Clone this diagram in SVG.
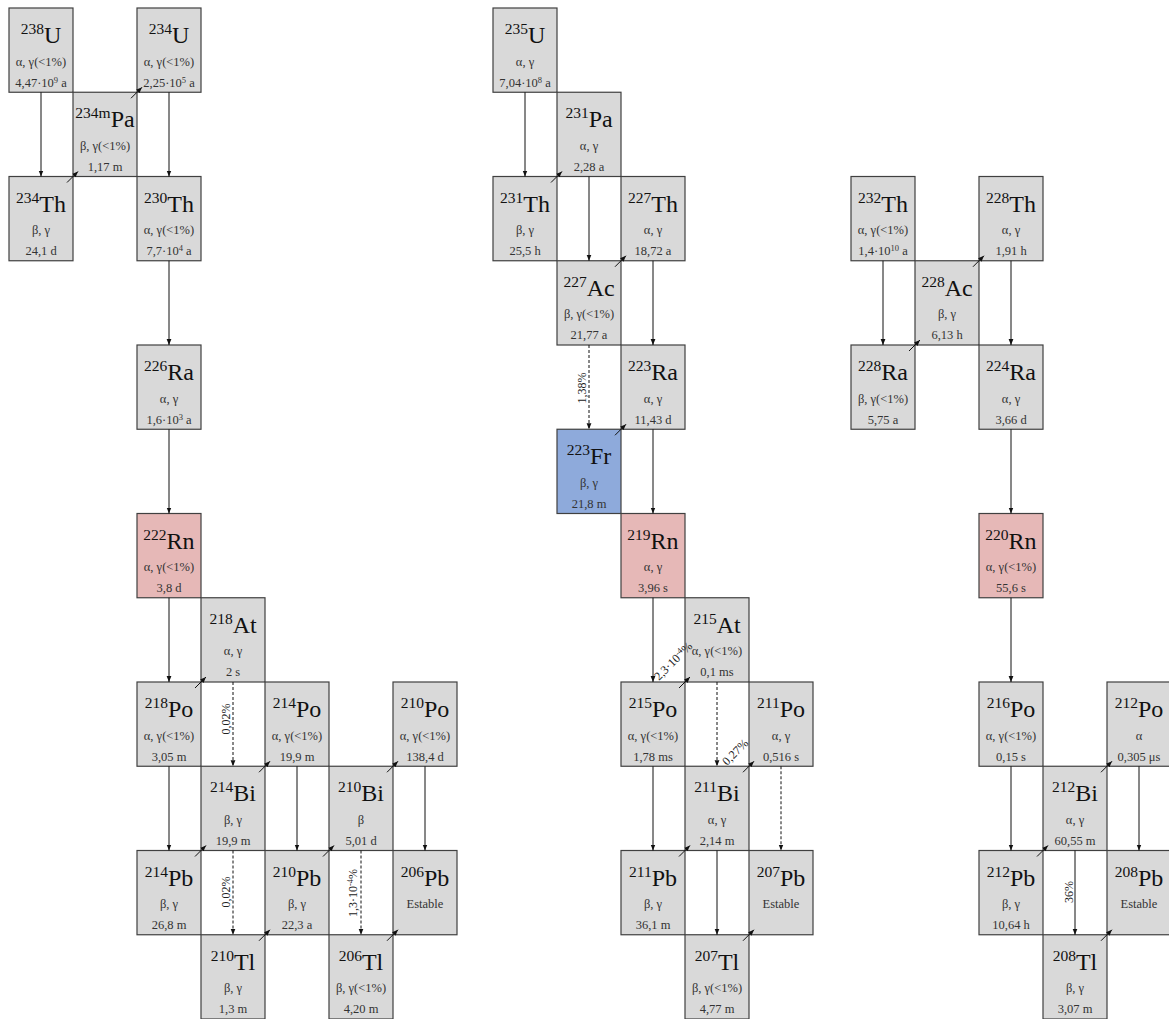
<svg xmlns="http://www.w3.org/2000/svg" width="1169" height="1019" viewBox="0 0 1169 1019">
<style>
.box{fill:#d9d9d9;stroke:#404040;stroke-width:1.2}
.pink{fill:#e6b8b7}
.blue{fill:#8eaadb}
text{font-family:"Liberation Serif","Times New Roman",serif;text-anchor:middle}
.sym{font-size:24px;fill:#111}
.sup{font-size:15.5px}
.t{font-size:12.5px;fill:#333}
.s2{font-size:8.5px}
.lbl{font-size:12px;fill:#222}
.a{stroke:#111;stroke-width:1;fill:none;marker-end:url(#ah)}
.d{stroke-dasharray:3,2}
</style>
<defs>
<marker id="ah" viewBox="0 0 10 10" refX="10" refY="5" markerWidth="6" markerHeight="6" markerUnits="userSpaceOnUse" orient="auto">
<path d="M0,1 L10,5 L0,9 z" fill="#111"/>
</marker>
</defs>
<rect width="1169" height="1019" fill="#fff"/>
<g id="nodes">
<!-- Chain 238U -->
<g id="n238U" transform="translate(9,8)"><rect class="box" width="64" height="84.25"/><text class="sym" x="32" y="35"><tspan class="sup" dy="-9">238</tspan><tspan dy="9">U</tspan></text><text class="t" x="32" y="57.5">α, γ(&lt;1%)</text><text class="t" x="32" y="78.5">4,47·10<tspan class="s2" dy="-4">9</tspan><tspan dy="4"> a</tspan></text></g>
<g id="n234mPa" transform="translate(73,92.25)"><rect class="box" width="64" height="84.25"/><text class="sym" x="32" y="35"><tspan class="sup" dy="-9">234m</tspan><tspan dy="9">Pa</tspan></text><text class="t" x="32" y="57.5">β, γ(&lt;1%)</text><text class="t" x="32" y="78.5">1,17 m</text></g>
<g id="n234U" transform="translate(137,8)"><rect class="box" width="64" height="84.25"/><text class="sym" x="32" y="35"><tspan class="sup" dy="-9">234</tspan><tspan dy="9">U</tspan></text><text class="t" x="32" y="57.5">α, γ(&lt;1%)</text><text class="t" x="32" y="78.5">2,25·10<tspan class="s2" dy="-4">5</tspan><tspan dy="4"> a</tspan></text></g>
<g id="n234Th" transform="translate(9,176.5)"><rect class="box" width="64" height="84.25"/><text class="sym" x="32" y="35"><tspan class="sup" dy="-9">234</tspan><tspan dy="9">Th</tspan></text><text class="t" x="32" y="57.5">β, γ</text><text class="t" x="32" y="78.5">24,1 d</text></g>
<g id="n230Th" transform="translate(137,176.5)"><rect class="box" width="64" height="84.25"/><text class="sym" x="32" y="35"><tspan class="sup" dy="-9">230</tspan><tspan dy="9">Th</tspan></text><text class="t" x="32" y="57.5">α, γ(&lt;1%)</text><text class="t" x="32" y="78.5">7,7·10<tspan class="s2" dy="-4">4</tspan><tspan dy="4"> a</tspan></text></g>
<g id="n226Ra" transform="translate(137,345)"><rect class="box" width="64" height="84.25"/><text class="sym" x="32" y="35"><tspan class="sup" dy="-9">226</tspan><tspan dy="9">Ra</tspan></text><text class="t" x="32" y="57.5">α, γ</text><text class="t" x="32" y="78.5">1,6·10<tspan class="s2" dy="-4">3</tspan><tspan dy="4"> a</tspan></text></g>
<g id="n222Rn" transform="translate(137,513.5)"><rect class="box pink" width="64" height="84.25"/><text class="sym" x="32" y="35"><tspan class="sup" dy="-9">222</tspan><tspan dy="9">Rn</tspan></text><text class="t" x="32" y="57.5">α, γ(&lt;1%)</text><text class="t" x="32" y="78.5">3,8 d</text></g>
<g id="n218At" transform="translate(201,597.75)"><rect class="box" width="64" height="84.25"/><text class="sym" x="32" y="35"><tspan class="sup" dy="-9">218</tspan><tspan dy="9">At</tspan></text><text class="t" x="32" y="57.5">α, γ</text><text class="t" x="32" y="78.5">2 s</text></g>
<g id="n218Po" transform="translate(137,682)"><rect class="box" width="64" height="84.25"/><text class="sym" x="32" y="35"><tspan class="sup" dy="-9">218</tspan><tspan dy="9">Po</tspan></text><text class="t" x="32" y="57.5">α, γ(&lt;1%)</text><text class="t" x="32" y="78.5">3,05 m</text></g>
<g id="n214Po" transform="translate(265,682)"><rect class="box" width="64" height="84.25"/><text class="sym" x="32" y="35"><tspan class="sup" dy="-9">214</tspan><tspan dy="9">Po</tspan></text><text class="t" x="32" y="57.5">α, γ(&lt;1%)</text><text class="t" x="32" y="78.5">19,9 m</text></g>
<g id="n210Po" transform="translate(393,682)"><rect class="box" width="64" height="84.25"/><text class="sym" x="32" y="35"><tspan class="sup" dy="-9">210</tspan><tspan dy="9">Po</tspan></text><text class="t" x="32" y="57.5">α, γ(&lt;1%)</text><text class="t" x="32" y="78.5">138,4 d</text></g>
<g id="n214Bi" transform="translate(201,766.25)"><rect class="box" width="64" height="84.25"/><text class="sym" x="32" y="35"><tspan class="sup" dy="-9">214</tspan><tspan dy="9">Bi</tspan></text><text class="t" x="32" y="57.5">β, γ</text><text class="t" x="32" y="78.5">19,9 m</text></g>
<g id="n210Bi" transform="translate(329,766.25)"><rect class="box" width="64" height="84.25"/><text class="sym" x="32" y="35"><tspan class="sup" dy="-9">210</tspan><tspan dy="9">Bi</tspan></text><text class="t" x="32" y="57.5">β</text><text class="t" x="32" y="78.5">5,01 d</text></g>
<g id="n214Pb" transform="translate(137,850.5)"><rect class="box" width="64" height="84.25"/><text class="sym" x="32" y="35"><tspan class="sup" dy="-9">214</tspan><tspan dy="9">Pb</tspan></text><text class="t" x="32" y="57.5">β, γ</text><text class="t" x="32" y="78.5">26,8 m</text></g>
<g id="n210Pb" transform="translate(265,850.5)"><rect class="box" width="64" height="84.25"/><text class="sym" x="32" y="35"><tspan class="sup" dy="-9">210</tspan><tspan dy="9">Pb</tspan></text><text class="t" x="32" y="57.5">β, γ</text><text class="t" x="32" y="78.5">22,3 a</text></g>
<g id="n206Pb" transform="translate(393,850.5)"><rect class="box" width="64" height="84.25"/><text class="sym" x="32" y="35"><tspan class="sup" dy="-9">206</tspan><tspan dy="9">Pb</tspan></text><text class="t" x="32" y="57.5">Estable</text></g>
<g id="n210Tl" transform="translate(201,934.75)"><rect class="box" width="64" height="84.25"/><text class="sym" x="32" y="35"><tspan class="sup" dy="-9">210</tspan><tspan dy="9">Tl</tspan></text><text class="t" x="32" y="57.5">β, γ</text><text class="t" x="32" y="78.5">1,3 m</text></g>
<g id="n206Tl" transform="translate(329,934.75)"><rect class="box" width="64" height="84.25"/><text class="sym" x="32" y="35"><tspan class="sup" dy="-9">206</tspan><tspan dy="9">Tl</tspan></text><text class="t" x="32" y="57.5">β, γ(&lt;1%)</text><text class="t" x="32" y="78.5">4,20 m</text></g>
<!-- Chain 235U -->
<g id="n235U" transform="translate(493,8)"><rect class="box" width="64" height="84.25"/><text class="sym" x="32" y="35"><tspan class="sup" dy="-9">235</tspan><tspan dy="9">U</tspan></text><text class="t" x="32" y="57.5">α, γ</text><text class="t" x="32" y="78.5">7,04·10<tspan class="s2" dy="-4">8</tspan><tspan dy="4"> a</tspan></text></g>
<g id="n231Pa" transform="translate(557,92.25)"><rect class="box" width="64" height="84.25"/><text class="sym" x="32" y="35"><tspan class="sup" dy="-9">231</tspan><tspan dy="9">Pa</tspan></text><text class="t" x="32" y="57.5">α, γ</text><text class="t" x="32" y="78.5">2,28 a</text></g>
<g id="n231Th" transform="translate(493,176.5)"><rect class="box" width="64" height="84.25"/><text class="sym" x="32" y="35"><tspan class="sup" dy="-9">231</tspan><tspan dy="9">Th</tspan></text><text class="t" x="32" y="57.5">β, γ</text><text class="t" x="32" y="78.5">25,5 h</text></g>
<g id="n227Th" transform="translate(621,176.5)"><rect class="box" width="64" height="84.25"/><text class="sym" x="32" y="35"><tspan class="sup" dy="-9">227</tspan><tspan dy="9">Th</tspan></text><text class="t" x="32" y="57.5">α, γ</text><text class="t" x="32" y="78.5">18,72 a</text></g>
<g id="n227Ac" transform="translate(557,260.75)"><rect class="box" width="64" height="84.25"/><text class="sym" x="32" y="35"><tspan class="sup" dy="-9">227</tspan><tspan dy="9">Ac</tspan></text><text class="t" x="32" y="57.5">β, γ(&lt;1%)</text><text class="t" x="32" y="78.5">21,77 a</text></g>
<g id="n223Ra" transform="translate(621,345)"><rect class="box" width="64" height="84.25"/><text class="sym" x="32" y="35"><tspan class="sup" dy="-9">223</tspan><tspan dy="9">Ra</tspan></text><text class="t" x="32" y="57.5">α, γ</text><text class="t" x="32" y="78.5">11,43 d</text></g>
<g id="n223Fr" transform="translate(557,429.25)"><rect class="box blue" width="64" height="84.25"/><text class="sym" x="32" y="35"><tspan class="sup" dy="-9">223</tspan><tspan dy="9">Fr</tspan></text><text class="t" x="32" y="57.5">β, γ</text><text class="t" x="32" y="78.5">21,8 m</text></g>
<g id="n219Rn" transform="translate(621,513.5)"><rect class="box pink" width="64" height="84.25"/><text class="sym" x="32" y="35"><tspan class="sup" dy="-9">219</tspan><tspan dy="9">Rn</tspan></text><text class="t" x="32" y="57.5">α, γ</text><text class="t" x="32" y="78.5">3,96 s</text></g>
<g id="n215At" transform="translate(685,597.75)"><rect class="box" width="64" height="84.25"/><text class="sym" x="32" y="35"><tspan class="sup" dy="-9">215</tspan><tspan dy="9">At</tspan></text><text class="t" x="32" y="57.5">α, γ(&lt;1%)</text><text class="t" x="32" y="78.5">0,1 ms</text></g>
<g id="n215Po" transform="translate(621,682)"><rect class="box" width="64" height="84.25"/><text class="sym" x="32" y="35"><tspan class="sup" dy="-9">215</tspan><tspan dy="9">Po</tspan></text><text class="t" x="32" y="57.5">α, γ(&lt;1%)</text><text class="t" x="32" y="78.5">1,78 ms</text></g>
<g id="n211Po" transform="translate(749,682)"><rect class="box" width="64" height="84.25"/><text class="sym" x="32" y="35"><tspan class="sup" dy="-9">211</tspan><tspan dy="9">Po</tspan></text><text class="t" x="32" y="57.5">α, γ</text><text class="t" x="32" y="78.5">0,516 s</text></g>
<g id="n211Bi" transform="translate(685,766.25)"><rect class="box" width="64" height="84.25"/><text class="sym" x="32" y="35"><tspan class="sup" dy="-9">211</tspan><tspan dy="9">Bi</tspan></text><text class="t" x="32" y="57.5">α, γ</text><text class="t" x="32" y="78.5">2,14 m</text></g>
<g id="n211Pb" transform="translate(621,850.5)"><rect class="box" width="64" height="84.25"/><text class="sym" x="32" y="35"><tspan class="sup" dy="-9">211</tspan><tspan dy="9">Pb</tspan></text><text class="t" x="32" y="57.5">β, γ</text><text class="t" x="32" y="78.5">36,1 m</text></g>
<g id="n207Pb" transform="translate(749,850.5)"><rect class="box" width="64" height="84.25"/><text class="sym" x="32" y="35"><tspan class="sup" dy="-9">207</tspan><tspan dy="9">Pb</tspan></text><text class="t" x="32" y="57.5">Estable</text></g>
<g id="n207Tl" transform="translate(685,934.75)"><rect class="box" width="64" height="84.25"/><text class="sym" x="32" y="35"><tspan class="sup" dy="-9">207</tspan><tspan dy="9">Tl</tspan></text><text class="t" x="32" y="57.5">β, γ(&lt;1%)</text><text class="t" x="32" y="78.5">4,77 m</text></g>
<!-- Chain 232Th -->
<g id="n232Th" transform="translate(851,176.5)"><rect class="box" width="64" height="84.25"/><text class="sym" x="32" y="35"><tspan class="sup" dy="-9">232</tspan><tspan dy="9">Th</tspan></text><text class="t" x="32" y="57.5">α, γ(&lt;1%)</text><text class="t" x="32" y="78.5">1,4·10<tspan class="s2" dy="-4">10</tspan><tspan dy="4"> a</tspan></text></g>
<g id="n228Ac" transform="translate(915,260.75)"><rect class="box" width="64" height="84.25"/><text class="sym" x="32" y="35"><tspan class="sup" dy="-9">228</tspan><tspan dy="9">Ac</tspan></text><text class="t" x="32" y="57.5">β, γ</text><text class="t" x="32" y="78.5">6,13 h</text></g>
<g id="n228Th" transform="translate(979,176.5)"><rect class="box" width="64" height="84.25"/><text class="sym" x="32" y="35"><tspan class="sup" dy="-9">228</tspan><tspan dy="9">Th</tspan></text><text class="t" x="32" y="57.5">α, γ</text><text class="t" x="32" y="78.5">1,91 h</text></g>
<g id="n228Ra" transform="translate(851,345)"><rect class="box" width="64" height="84.25"/><text class="sym" x="32" y="35"><tspan class="sup" dy="-9">228</tspan><tspan dy="9">Ra</tspan></text><text class="t" x="32" y="57.5">β, γ(&lt;1%)</text><text class="t" x="32" y="78.5">5,75 a</text></g>
<g id="n224Ra" transform="translate(979,345)"><rect class="box" width="64" height="84.25"/><text class="sym" x="32" y="35"><tspan class="sup" dy="-9">224</tspan><tspan dy="9">Ra</tspan></text><text class="t" x="32" y="57.5">α, γ</text><text class="t" x="32" y="78.5">3,66 d</text></g>
<g id="n220Rn" transform="translate(979,513.5)"><rect class="box pink" width="64" height="84.25"/><text class="sym" x="32" y="35"><tspan class="sup" dy="-9">220</tspan><tspan dy="9">Rn</tspan></text><text class="t" x="32" y="57.5">α, γ(&lt;1%)</text><text class="t" x="32" y="78.5">55,6 s</text></g>
<g id="n216Po" transform="translate(979,682)"><rect class="box" width="64" height="84.25"/><text class="sym" x="32" y="35"><tspan class="sup" dy="-9">216</tspan><tspan dy="9">Po</tspan></text><text class="t" x="32" y="57.5">α, γ(&lt;1%)</text><text class="t" x="32" y="78.5">0,15 s</text></g>
<g id="n212Po" transform="translate(1107,682)"><rect class="box" width="64" height="84.25"/><text class="sym" x="32" y="35"><tspan class="sup" dy="-9">212</tspan><tspan dy="9">Po</tspan></text><text class="t" x="32" y="57.5">α</text><text class="t" x="32" y="78.5">0,305 μs</text></g>
<g id="n212Bi" transform="translate(1043,766.25)"><rect class="box" width="64" height="84.25"/><text class="sym" x="32" y="35"><tspan class="sup" dy="-9">212</tspan><tspan dy="9">Bi</tspan></text><text class="t" x="32" y="57.5">α, γ</text><text class="t" x="32" y="78.5">60,55 m</text></g>
<g id="n212Pb" transform="translate(979,850.5)"><rect class="box" width="64" height="84.25"/><text class="sym" x="32" y="35"><tspan class="sup" dy="-9">212</tspan><tspan dy="9">Pb</tspan></text><text class="t" x="32" y="57.5">β, γ</text><text class="t" x="32" y="78.5">10,64 h</text></g>
<g id="n208Pb" transform="translate(1107,850.5)"><rect class="box" width="64" height="84.25"/><text class="sym" x="32" y="35"><tspan class="sup" dy="-9">208</tspan><tspan dy="9">Pb</tspan></text><text class="t" x="32" y="57.5">Estable</text></g>
<g id="n208Tl" transform="translate(1043,934.75)"><rect class="box" width="64" height="84.25"/><text class="sym" x="32" y="35"><tspan class="sup" dy="-9">208</tspan><tspan dy="9">Tl</tspan></text><text class="t" x="32" y="57.5">β, γ</text><text class="t" x="32" y="78.5">3,07 m</text></g>
</g>
<g id="connectors">
<!-- alpha, solid -->
<path class="a" d="M41,92.25 V176.5"/>
<path class="a" d="M169,92.25 V176.5"/>
<path class="a" d="M169,260.75 V345"/>
<path class="a" d="M169,429.25 V513.5"/>
<path class="a" d="M169,597.75 V682"/>
<path class="a" d="M169,766.25 V850.5"/>
<path class="a" d="M297,766.25 V850.5"/>
<path class="a" d="M425,766.25 V850.5"/>
<path class="a d" d="M233,682 V766.25"/>
<path class="a d" d="M233,850.5 V934.75"/>
<path class="a d" d="M361,850.5 V934.75"/>
<path class="a" d="M525,92.25 V176.5"/>
<path class="a" d="M589,176.5 V260.75"/>
<path class="a" d="M653,260.75 V345"/>
<path class="a" d="M653,429.25 V513.5"/>
<path class="a" d="M653,597.75 V682"/>
<path class="a" d="M653,766.25 V850.5"/>
<path class="a" d="M717,850.5 V934.75"/>
<path class="a d" d="M589,345 V429.25"/>
<path class="a d" d="M717,682 V766.25"/>
<path class="a d" d="M781,766.25 V850.5"/>
<path class="a" d="M883,260.75 V345"/>
<path class="a" d="M1011,260.75 V345"/>
<path class="a" d="M1011,429.25 V513.5"/>
<path class="a" d="M1011,597.75 V682"/>
<path class="a" d="M1011,766.25 V850.5"/>
<path class="a" d="M1139,766.25 V850.5"/>
<path class="a" d="M1075,850.5 V934.75"/>
<!-- beta, diagonal -->
<path class="a" d="M67,182.5 L78,171.5"/>
<path class="a" d="M131,98.25 L142,87.25"/>
<path class="a" d="M195,688 L206,677"/>
<path class="a" d="M259,772.25 L270,761.25"/>
<path class="a" d="M195,856.5 L206,845.5"/>
<path class="a" d="M323,856.5 L334,845.5"/>
<path class="a" d="M387,772.25 L398,761.25"/>
<path class="a" d="M259,940.75 L270,929.75"/>
<path class="a" d="M387,940.75 L398,929.75"/>
<path class="a" d="M551,182.5 L562,171.5"/>
<path class="a" d="M615,266.75 L626,255.75"/>
<path class="a" d="M615,435.25 L626,424.25"/>
<path class="a" d="M679,688 L690,677"/>
<path class="a" d="M743,772.25 L754,761.25"/>
<path class="a" d="M679,856.5 L690,845.5"/>
<path class="a" d="M743,940.75 L754,929.75"/>
<path class="a" d="M909,351 L920,340"/>
<path class="a" d="M973,266.75 L984,255.75"/>
<path class="a" d="M1101,772.25 L1112,761.25"/>
<path class="a" d="M1037,856.5 L1048,845.5"/>
<path class="a" d="M1101,940.75 L1112,929.75"/>
<!-- branch labels -->
<text class="lbl" transform="translate(230,719) rotate(-90)">0,02%</text>
<text class="lbl" transform="translate(230,892) rotate(-90)">0,02%</text>
<text class="lbl" transform="translate(357,893) rotate(-90)">1,3·10<tspan class="s2" dy="-4">-4</tspan><tspan dy="4">%</tspan></text>
<text class="lbl" transform="translate(586,388) rotate(-90)">1,38%</text>
<text class="lbl" transform="translate(1073,892) rotate(-90)">36%</text>
<text class="lbl" transform="translate(676,664) rotate(-45)">2,3·10<tspan class="s2" dy="-4">-4</tspan><tspan dy="4">%</tspan></text>
<text class="lbl" transform="translate(738,755) rotate(-45)">0,27%</text>
</g>
</svg>
